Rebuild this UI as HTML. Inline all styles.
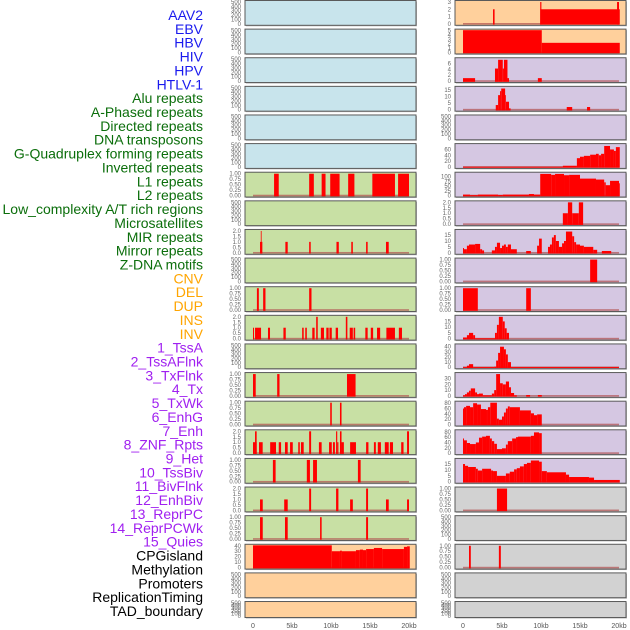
<!DOCTYPE html>
<html><head><meta charset="utf-8">
<style>
body{margin:0;background:#fff;}
svg{display:block;font-family:"Liberation Sans",sans-serif;}
</style></head>
<body>
<svg id="chart" width="630" height="630" viewBox="0 0 630 630"></svg>
<script>
const trackNames=["AAV2","EBV","HBV","HIV","HPV","HTLV-1","Alu repeats","A-Phased repeats","Directed repeats","DNA transposons","G-Quadruplex forming repeats","Inverted repeats","L1 repeats","L2 repeats","Low_complexity A/T rich regions","Microsatellites","MIR repeats","Mirror repeats","Z-DNA motifs","CNV","DEL","DUP","INS","INV","1_TssA","2_TssAFlnk","3_TxFlnk","4_Tx","5_TxWk","6_EnhG","7_Enh","8_ZNF_Rpts","9_Het","10_TssBiv","11_BivFlnk","12_EnhBiv","13_ReprPC","14_ReprPCWk","15_Quies","CPGisland","Methylation","Promoters","ReplicationTiming","TAD_boundary"];
const labelColors=["#1a1aee","#1a1aee","#1a1aee","#1a1aee","#1a1aee","#1a1aee","#0b6e0b","#0b6e0b","#0b6e0b","#0b6e0b","#0b6e0b","#0b6e0b","#0b6e0b","#0b6e0b","#0b6e0b","#0b6e0b","#0b6e0b","#0b6e0b","#0b6e0b","#ffa500","#ffa500","#ffa500","#ffa500","#ffa500","#a020f0","#a020f0","#a020f0","#a020f0","#a020f0","#a020f0","#a020f0","#a020f0","#a020f0","#a020f0","#a020f0","#a020f0","#a020f0","#a020f0","#a020f0","#000","#000","#000","#000","#000"];
const xTickValues=[0,5,10,15,20];
const xTickLabels=["0","5kb","10kb","15kb","20kb"];
// segment data: [startKb, endKb, value]
const alu=[[2.7,3.3,1],[7.2,7.8,1],[8.8,9.3,1],[9.9,11.1,1],[12.2,13,1],[15.3,18.2,1],[18.6,20,1]];
const directed=[[0.9,1.2,1],[1.0,1.1,2],[4.15,4.45,1],[7.2,7.4,1],[10.7,11,1],[12.6,12.8,1],[14.5,14.7,1],[17.05,17.4,1]];
const gquad=[[0.5,0.75,1],[1.3,1.6,1],[7.2,7.5,1]];
const inverted=[[0,0.13,1],[0.26,1.03,1],[1.92,2.18,1],[3.9,4.2,1],[6.3,6.5,1],[6.7,6.9,1],[7.6,7.9,1],[8.1,8.3,2],[8.7,9.1,1],[9.4,9.7,1],[9.8,10.1,1],[10.6,10.9,1],[11.9,12.1,2],[12.4,12.8,1],[12.9,13.1,1],[14.4,14.7,1],[15.1,15.4,1],[15.9,16.3,1],[17.1,18.2,1],[18.7,19.1,1]];
const l2=[[0,0.35,1],[3.1,3.4,1],[12.05,13.15,1]];
const lowcomplex=[[9.9,10.1,1],[11.15,11.35,1]];
const micro=[[0,0.47,1],[0.26,0.47,2],[0.77,1.24,1],[2.2,2.95,1],[3.3,3.6,1],[4.1,4.45,1],[4.75,5.1,1],[5.8,6,1],[6.15,6.5,1],[7.2,7.45,2],[8.45,8.8,1],[9.75,10.1,1],[10.25,10.5,1],[10.65,10.8,2],[10.8,10.95,1],[11.15,11.35,2],[11.35,11.65,1],[12.45,13.2,1],[14.5,14.8,1],[15.5,15.75,1],[16,16.4,1],[16.9,17.4,1],[17.55,17.95,1],[19,19.3,1],[19.75,20,2]];
const mir=[[2.55,2.9,1],[6.9,7.3,1],[7.7,8.2,1],[13.45,13.8,1]];
const mirror=[[0.9,1.25,1],[4,4.45,1],[7.2,7.45,2],[10.65,10.95,2],[12.45,12.8,1],[14.5,14.75,2],[17.05,17.4,1],[19.75,20,1]];
const zdna=[[0.9,1.25,1],[4.1,4.45,1],[8.6,8.8,1],[14.5,14.75,1]];
const cnv=[[0,10.1,47],[10.1,11.15,30],[11.15,11.4,31],[11.4,13.2,30],[13.2,13.7,32],[13.7,14.1,33],[14.1,14.5,32],[14.5,15.5,34],[15.5,16.55,36],[16.55,19.35,34],[19.35,19.75,38],[19.75,20.1,39]];
const ins=[[3.85,4.05,2],[9.9,20.1,2],[9.9,10.05,3],[19.75,20,3]];
const inv=[[0,10.1,5.2],[10.1,20.1,2.2]];
const tssa=[[0,1.55,1],[4.1,4.5,4.3],[4.5,5.1,7.3],[5.1,5.25,4.3],[5.25,5.7,7.3],[5.7,5.9,1],[9.6,10.1,1]];
const tssaflnk=[[4.2,4.5,3.5],[4.5,4.75,11],[4.75,4.9,14],[4.9,5.4,16],[5.4,5.5,11],[5.5,5.9,6],[5.9,6.1,1],[13.3,14,2],[15.9,16.3,2]];
const tx=[[0,12.8,0.5],[12.8,14.6,4],[14.6,15,30],[15,15.5,35],[15.5,16.3,38],[16.3,17.05,42],[17.05,17.4,45],[17.4,17.7,40],[17.7,18.1,45],[18.1,18.85,72],[18.85,19.35,60],[19.35,19.6,55],[19.6,20.1,68]];
const txwk=[[0,0.9,5],[0.9,1.9,2],[1.9,4.5,5],[4.5,5.1,3],[5.1,8.45,5],[8.45,9.1,8],[9.1,9.9,5],[9.9,11.3,115],[11.3,11.8,110],[11.8,12.95,115],[12.95,13.6,108],[13.6,15,110],[15,17.05,90],[17.05,18.1,85],[18.1,18.3,70],[18.3,18.85,55],[18.85,20,78],[20,20.1,65]];
const enhg=[[12.8,13.45,1],[13.45,14,2],[14,14.85,1],[14.85,15.4,2]];
const enh=[[0,0.13,4],[0.13,0.5,3],[0.5,0.77,6],[0.77,1.55,7],[1.55,2.2,7.5],[2.2,2.45,3],[2.45,2.7,2],[3.7,4.1,2],[4.1,4.35,5],[4.35,4.75,8.5],[4.75,5,4],[5,5.25,6],[5.25,5.5,7],[5.5,5.75,5],[5.75,6.15,7],[6.15,6.9,3],[8.1,8.7,1.5],[9.5,9.75,6],[9.75,10.1,12],[10.9,11.15,5],[11.15,11.4,7],[11.4,11.65,13],[11.65,11.9,15],[11.9,12.3,10],[12.3,12.7,5],[12.7,12.95,8],[12.95,13.2,10],[13.2,14,18],[14,14.25,14],[14.25,14.5,9],[14.5,15,7],[15,15.5,6],[15.5,16.7,5],[16.7,17.2,2.5],[17.8,19,1.5]];
const znf=[[16.3,17.2,1]];
const het=[[0,1.9,1],[8.1,8.7,1]];
const tssbiv=[[0,0.5,1],[0.5,0.77,3],[0.77,1.3,5],[1.3,1.55,3],[1.55,4.1,0.3],[4.1,4.35,5],[4.35,4.6,12],[4.6,5.1,19],[5.1,5.35,15],[5.35,5.6,9],[5.6,5.9,5]];
const bivflnk=[[0,0.5,0.3],[0.5,0.77,3],[0.77,1.3,6],[1.3,4,0.3],[4,4.25,1],[4.25,4.5,13],[4.5,4.75,28],[4.75,5.25,40],[5.25,5.5,35],[5.5,5.75,25],[5.75,6.15,10],[6.15,20,0.3]];
const enhbiv=[[0,0.26,1],[0.26,0.5,3],[0.5,0.77,6],[0.77,1,9],[1,1.55,13],[1.55,1.8,6],[1.8,2.05,3],[2.05,2.55,4],[2.55,3.7,1],[3.7,4,4],[4,4.25,10],[4.25,4.75,38],[4.75,5.1,22],[5.1,5.5,20],[5.5,5.9,25],[5.9,6.15,15],[6.15,6.55,5],[6.55,6.9,1],[8.1,8.6,1.5],[9.6,10.1,1.5]];
const reprpc=[[0,0.13,60],[0.13,0.4,65],[0.4,0.9,70],[0.9,1.3,65],[1.3,1.8,80],[1.8,2.3,75],[2.3,2.95,58],[2.95,3.2,55],[3.2,3.5,65],[3.5,4.35,82],[4.35,4.6,22],[4.6,5,18],[5,5.25,30],[5.25,5.5,45],[5.5,5.75,60],[5.75,6,68],[6,7.3,65],[7.3,8.7,53],[8.7,9.1,42],[9.1,9.5,35],[9.5,10.1,38]];
const reprpcwk=[[0,0.13,55],[0.13,0.5,48],[0.5,0.9,38],[0.9,1.65,34],[1.65,2.05,40],[2.05,2.45,58],[2.45,2.95,62],[2.95,3.45,65],[3.45,3.7,55],[3.7,4,45],[4,4.35,35],[4.35,5,15],[5,5.5,18],[5.5,5.75,32],[5.75,6.3,45],[6.3,6.8,55],[6.8,7.05,60],[7.05,8.7,62],[8.7,9.1,65],[9.1,9.75,78],[9.75,10.1,75]];
const quies=[[0,0.26,15],[0.26,0.65,13.5],[0.65,1.65,12.5],[1.65,1.9,11],[1.9,2.45,9.5],[2.45,3.6,11],[3.6,3.85,9.5],[3.85,4.35,9],[4.35,5.5,5],[5.5,6,7],[6,6.55,8.5],[6.55,6.9,10.5],[6.9,7.3,11.5],[7.3,7.8,13],[7.8,8.2,15],[8.2,8.7,16],[8.7,9.75,18],[9.75,10.1,17],[10.1,10.75,9],[10.75,13.2,8],[13.2,13.6,6],[13.6,16.15,4],[16.15,16.8,3.5],[16.8,20.1,1.5]];
const cpg=[[4.35,5.65,1]];
const promoters=[[0.77,1,1],[4.6,4.85,1]];
const emptyTicks=[0,100,200,300,400,500];
const t1=[0,0.25,0.5,0.75,1], t1L=["0.00","0.25","0.50","0.75","1.00"];
const t2=[0,0.5,1,1.5,2], t2L=["0.0","0.5","1.0","1.5","2.0"];
// panels: [column, row, bgKey, data, ticks, tickLabels]
const B="#c8e4ec",G="#c8e0a4",P="#ffd09c",V="#d5c7e2",Y="#d2d2d2";
const panels=[
[0,0,B,null],[0,1,B,null],[0,2,B,null],[0,3,B,null],[0,4,B,null],[0,5,B,null],
[0,6,G,alu,t1,t1L],[0,7,G,null],[0,8,G,directed,t2,t2L],[0,9,G,null],[0,10,G,gquad,t1,t1L],[0,11,G,inverted,t2,t2L],[0,12,G,null],[0,13,G,l2,t1,t1L],[0,14,G,lowcomplex,t1,t1L],[0,15,G,micro,t2,t2L],[0,16,G,mir,t1,t1L],[0,17,G,mirror,t2,t2L],[0,18,G,zdna,t1,t1L],
[0,19,P,cnv,[0,10,20,30,40],["0","10","20","30","40"]],[0,20,P,null],[0,21,P,null],
[1,0,P,ins,[0,1,2,3],["0","1","2","3"]],[1,1,P,inv,[0,1,2,3,4,5],["0","1","2","3","4","5"]],
[1,2,V,tssa,[0,2,4,6],["0","2","4","6"],7.5],[1,3,V,tssaflnk,[0,5,10,15],["0","5","10","15"],16.5],[1,4,V,null],
[1,5,V,tx,[0,20,40,60],["0","20","40","60"],75],[1,6,V,txwk,[0,25,50,75,100],["0","25","50","75","100"],116],
[1,7,V,enhg,t2,t2L],[1,8,V,enh,[0,5,10,15],["0","5","10","15"],18.5],[1,9,V,znf,t1,t1L],[1,10,V,het,t1,t1L],
[1,11,V,tssbiv,[0,5,10,15],["0","5","10","15"],19],[1,12,V,bivflnk,[0,10,20,30,40],["0","10","20","30","40"],42.5],
[1,13,V,enhbiv,[0,10,20,30],["0","10","20","30"],38],[1,14,V,reprpc,[0,20,40,60,80],["0","20","40","60","80"],82],
[1,15,V,reprpcwk,[0,20,40,60,80],["0","20","40","60","80"],82],[1,16,V,quies,[0,5,10,15],["0","5","10","15"],18.5],
[1,17,Y,cpg,t1,t1L],[1,18,Y,null],[1,19,Y,promoters,t1,t1L],[1,20,Y,null],[1,21,Y,null]
];
const svg=document.getElementById('chart');
const NS="http://www.w3.org/2000/svg";
function mk(tag,attrs,parent){const e=document.createElementNS(NS,tag);for(const k in attrs)e.setAttribute(k,attrs[k]);(parent||svg).appendChild(e);return e;}
// labels
trackNames.forEach((n,i)=>{
  const t=mk('text',{x:203,y:(15+i*13.86+5).toFixed(1),'text-anchor':'end','font-size':'14',fill:labelColors[i]});
  
  
  t.textContent=n;
});
const colFrame=[[245,416],[455,626]], colX0=[253,463], pxPerKb=7.8;
function xs(c,kb){return colX0[c]+kb*pxPerKb;}
panels.forEach(p=>{
  const [c,r,bg,data]=p;
  const top=0.5+r*28.62, h=(r===21?16:24.8), bot=top+h;
  const g=mk('g',{});
  
  
  mk('rect',{x:colFrame[c][0]+1,y:top+1,width:colFrame[c][1]-colFrame[c][0],height:h,fill:'#bbb'},g);
  mk('rect',{x:colFrame[c][0],y:top,width:colFrame[c][1]-colFrame[c][0],height:h,fill:bg,stroke:'#5a5a5a','stroke-width':1},g);
  let ticks=p[4]||emptyTicks, tl=p[5]||emptyTicks.map(String);
  const tmax=ticks[ticks.length-1];
  const ymax=p[6]||tmax;
  const y0=bot-1.5, span=h-3;
  const ys=v=>y0-Math.min(v,ymax*1.02)/ymax*span;
  ticks.forEach((tv,k)=>{
    const tt=mk('text',{x:colFrame[c][0]-4,y:(ys(tv)+2).toFixed(1),'text-anchor':'end','font-size':'6',fill:'#666'},g);
    
    
    tt.textContent=tl[k];
  });
  if(data){
    mk('rect',{x:xs(c,0),y:y0-0.8,width:xs(c,20)-xs(c,0),height:1.6,fill:'#b05050',opacity:0.7},g);
    data.forEach(d=>{
      const yy=Math.max(ys(d[2]),top+0.5);
      const b=mk('rect',{x:xs(c,d[0]).toFixed(2),y:yy.toFixed(2),width:Math.max(0.8,(d[1]-d[0])*pxPerKb).toFixed(2),height:(y0+0.8-yy).toFixed(2),fill:'#ff0000'},g);
      
      
    });
  }
});
[0,1].forEach(c=>{
  xTickValues.forEach((v,k)=>{
    const t=mk('text',{x:xs(c,v),y:628,'text-anchor':'middle','font-size':'7',fill:'#555'});
    
    
    t.textContent=xTickLabels[k];
  });
});
</script>
</body></html>
